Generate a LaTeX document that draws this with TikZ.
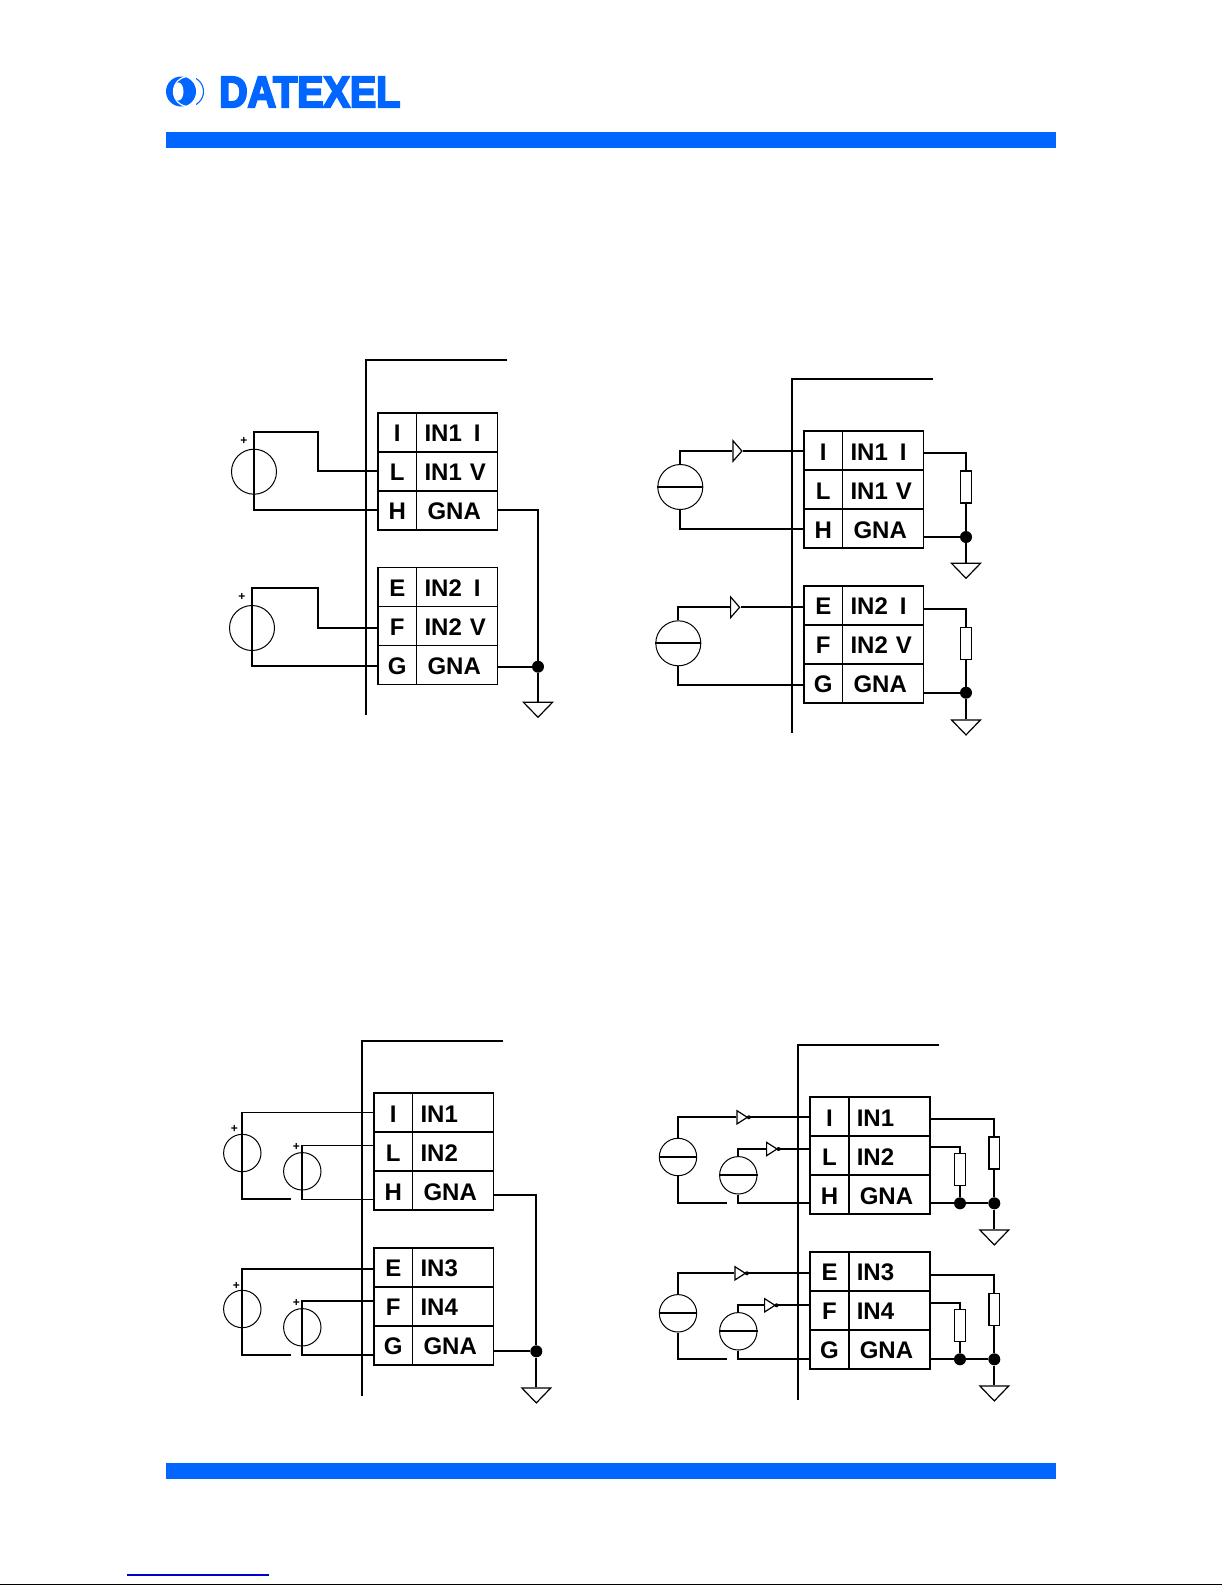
\documentclass[tikz,border=0pt]{standalone}
\usepackage{fontspec}
\usepackage{graphicx}
\usepackage{xcolor}
\setmainfont{Liberation Sans}
\newfontfamily\logofont[FakeBold=5]{Liberation Sans}
\definecolor{datexel}{HTML}{0066FF}
\definecolor{pagelink}{HTML}{0000CC}
\usetikzlibrary{positioning,shapes.geometric}

\begin{document}
\begin{tikzpicture}
[
x=1pt, y=-1pt,
bar/.style={fill=datexel, minimum width=890pt, minimum height=16pt, inner sep=0pt},
pin/.style={draw, line width=1.8pt, minimum width=38.5pt, minimum height=39pt, inner sep=0pt, outer sep=0pt, font=\fontsize{24}{28}\selectfont\bfseries, text height=19pt, text depth=0pt},
lab-l/.style={pin, align=left, text width=65pt, inner xsep=8pt},
lab-c/.style={pin, align=left, text width=59pt, inner xsep=11pt},
wire/.style={line width=1.8pt},
src-l/.style={circle, draw, line width=1pt, minimum size=45pt, inner sep=0pt},
src-s/.style={circle, draw, line width=1pt, minimum size=37.4pt, inner sep=0pt},
plus/.style={font=\fontsize{12}{12}\selectfont\bfseries, inner sep=0pt},
junction/.style={circle, fill=black, minimum size=12pt, inner sep=0pt},
tip-dot/.style={circle, fill=black, minimum size=4pt, inner sep=0pt},
ground/.style={isosceles triangle, isosceles triangle stretches, shape border rotate=-90, draw, line width=1.2pt, minimum height=15pt, minimum width=29pt, inner sep=0pt, anchor=lower side},
diode-b/.style={isosceles triangle, isosceles triangle stretches, draw, line width=1.2pt, minimum height=9pt, minimum width=20.7pt, inner sep=0pt, anchor=lower side},
diode-d/.style={isosceles triangle, isosceles triangle stretches, draw, line width=1.2pt, minimum height=10.4pt, minimum width=13.3pt, inner sep=0pt, anchor=lower side},
load/.style={draw, line width=1.4pt, minimum width=10.7pt, minimum height=32pt, inner sep=0pt}
]
\useasboundingbox (0,0) rectangle (1225,1585);

\node (bar-top) [bar] at (611,140)  {};
\node (bar-bot) [bar] at (611,1471) {};
\fill [datexel] (181,91.5) circle (15);
\begin{scope}
\clip (181,91.5) circle (15);
\fill [white] (178.5,91.5) ellipse (5 and 9);
\draw [white, line width=1.2pt] (188.5,91.5) circle (15);
\end{scope}
\begin{scope}
\clip (196,70) rectangle (210,115);
\draw [datexel, line width=1.1pt] (188.5,91.5) circle (15);
\end{scope}
\node (logo) [anchor=west, inner sep=0pt, text=datexel] at (219,92) {\resizebox{181pt}{30pt}{\logofont\bfseries DATEXEL}};
\draw [pagelink, line width=1.2pt] (127,1575) -- (269,1575);
\draw [black, line width=1.6pt] (0,1584.3) -- (1222,1584.3);

% first panel
\node (pin-a1-1) [pin, anchor=north west] at (378,412.7) {I};
\node (pin-a1-2) [pin, below = 0pt of pin-a1-1]  {L};
\node (pin-a1-3) [pin, below = 0pt of pin-a1-2]  {H};
\node (lab-a1-1) [lab-l, right = 0pt of pin-a1-1] {IN1~\,I};
\node (lab-a1-2) [lab-l, right = 0pt of pin-a1-2] {IN1~V};
\node (lab-a1-3) [lab-c, right = 0pt of pin-a1-3] {GNA};
\node (pin-a2-1) [pin, anchor=north west] at (378,567.5) {E};
\node (pin-a2-2) [pin, below = 0pt of pin-a2-1]  {F};
\node (pin-a2-3) [pin, below = 0pt of pin-a2-2]  {G};
\node (lab-a2-1) [lab-l, right = 0pt of pin-a2-1] {IN2~\,I};
\node (lab-a2-2) [lab-l, right = 0pt of pin-a2-2] {IN2~V};
\node (lab-a2-3) [lab-c, right = 0pt of pin-a2-3] {GNA};
\node (src-a1)   [src-l] at (254,471.7) {};
\node (src-a2)   [src-l] at (252,628)   {};
\node (plus-a1)  [plus]  at (244,440.7) {+};
\node (plus-a2)  [plus]  at (242,596.7) {+};
\node (dot-a)    [junction] at (538,666.7) {};
\node (gnd-a)    [ground]   at (538,701.7) {};
\coordinate (bus-a-r) at (507,360.3);
\coordinate (bus-a-c) at (366,360.3);
\coordinate (bus-a-b) at (366,715);
\coordinate (bend-a1) at (318,432);
\coordinate (bend-a2) at (318,588);
\draw [wire] (bus-a-r) -- (bus-a-c) -- (bus-a-b);
\draw [wire] (pin-a1-2.west) -| (bend-a1) -- (bend-a1 -| src-a1) |- (pin-a1-3.west);
\draw [wire] ([yshift=-2pt]pin-a2-2.west) -| (bend-a2) -- (bend-a2 -| src-a2) |- ([yshift=-1pt]pin-a2-3.west);
\draw [wire] (lab-a1-3.east) -| (dot-a);
\draw [wire] (dot-a -| lab-a2-3.east) -- (dot-a) -- (gnd-a.lower side);

% second panel
\node (pin-b1-1) [pin, anchor=north west] at (804,431.3) {I};
\node (pin-b1-2) [pin, below = 0pt of pin-b1-1]  {L};
\node (pin-b1-3) [pin, below = 0pt of pin-b1-2]  {H};
\node (lab-b1-1) [lab-l, right = 0pt of pin-b1-1] {IN1~\,I};
\node (lab-b1-2) [lab-l, right = 0pt of pin-b1-2] {IN1~V};
\node (lab-b1-3) [lab-c, right = 0pt of pin-b1-3] {GNA};
\node (pin-b2-1) [pin, anchor=north west] at (804,585.8) {E};
\node (pin-b2-2) [pin, below = 0pt of pin-b2-1]  {F};
\node (pin-b2-3) [pin, below = 0pt of pin-b2-2]  {G};
\node (lab-b2-1) [lab-l, right = 0pt of pin-b2-1] {IN2~\,I};
\node (lab-b2-2) [lab-l, right = 0pt of pin-b2-2] {IN2~V};
\node (lab-b2-3) [lab-c, right = 0pt of pin-b2-3] {GNA};
\node (src-b1)   [src-l] at (680.3,487)   {};
\node (src-b2)   [src-l] at (678.3,643.3) {};
\node (tri-b1)   [diode-b] at (732.3,451)   {};
\node (tri-b2)   [diode-b] at (730,607.3)   {};
\node (load-b1)  [load] at (966,487)   {};
\node (load-b2)  [load] at (966,643.3) {};
\node (dot-b1)   [junction] at (966,537)   {};
\node (dot-b2)   [junction] at (966,692.7) {};
\node (gnd-b1)   [ground]   at (966,562.7) {};
\node (gnd-b2)   [ground]   at (966,719.3) {};
\coordinate (bus-b-r) at (933,379.3);
\coordinate (bus-b-c) at (792.3,379.3);
\coordinate (bus-b-b) at (792.3,733.3);
\draw [wire] (bus-b-r) -- (bus-b-c) -- (bus-b-b);
\draw [wire] (src-b1.west) -- (src-b1.east);
\draw [wire] (src-b2.west) -- (src-b2.east);
\draw [wire] (src-b1.north) |- (tri-b1.lower side);
\draw [wire] (tri-b1.apex) -- (tri-b1.apex -| pin-b1-1.west);
\draw [wire] (src-b1.south) |- (pin-b1-3.west);
\draw [wire] (src-b2.north) |- (tri-b2.lower side);
\draw [wire] (tri-b2.apex) -- (tri-b2.apex -| pin-b2-1.west);
\draw [wire] (src-b2.south) |- ([yshift=-2pt]pin-b2-3.west);
\draw [wire] ([yshift=-2.5pt]lab-b1-1.east) -| (load-b1.north);
\draw [wire] (load-b1.south) -- (dot-b1) -- (gnd-b1.lower side);
\draw [wire] (dot-b1 -| lab-b1-3.east) -- (dot-b1);
\draw [wire] ([yshift=-3.7pt]lab-b2-1.east) -| (load-b2.north);
\draw [wire] (load-b2.south) -- (dot-b2) -- (gnd-b2.lower side);
\draw [wire] (dot-b2 -| lab-b2-3.east) -- (dot-b2);

% third panel
\node (pin-c1-1) [pin, anchor=north west] at (374,1093) {I};
\node (pin-c1-2) [pin, below = 0pt of pin-c1-1]  {L};
\node (pin-c1-3) [pin, below = 0pt of pin-c1-2]  {H};
\node (lab-c1-1) [lab-l, right = 0pt of pin-c1-1] {IN1};
\node (lab-c1-2) [lab-l, right = 0pt of pin-c1-2] {IN2};
\node (lab-c1-3) [lab-c, right = 0pt of pin-c1-3] {GNA};
\node (pin-c2-1) [pin, anchor=north west] at (374,1247.8) {E};
\node (pin-c2-2) [pin, below = 0pt of pin-c2-1]  {F};
\node (pin-c2-3) [pin, below = 0pt of pin-c2-2]  {G};
\node (lab-c2-1) [lab-l, right = 0pt of pin-c2-1] {IN3};
\node (lab-c2-2) [lab-l, right = 0pt of pin-c2-2] {IN4};
\node (lab-c2-3) [lab-c, right = 0pt of pin-c2-3] {GNA};
\node (src-c1)   [src-s] at (242.3,1153)   {};
\node (src-c2)   [src-s] at (302.3,1171.3) {};
\node (src-c3)   [src-s] at (242.3,1309)   {};
\node (src-c4)   [src-s] at (302.3,1327.3) {};
\node (plus-c1)  [plus]  at (234.3,1129.3) {+};
\node (plus-c2)  [plus]  at (296.3,1147.3) {+};
\node (plus-c3)  [plus]  at (236.3,1285.7) {+};
\node (plus-c4)  [plus]  at (296.3,1303.3) {+};
\node (dot-c)    [junction] at (536.3,1351.3) {};
\node (gnd-c)    [ground]   at (536.3,1387.3) {};
\coordinate (bus-c-r) at (503.3,1041.3);
\coordinate (bus-c-c) at (362.3,1041.3);
\coordinate (bus-c-b) at (362.3,1396);
\coordinate (tail-c1) at (291,1199.3);
\coordinate (tail-c3) at (291,1355.3);
\draw [wire] (bus-c-r) -- (bus-c-c) -- (bus-c-b);
\draw [wire] (pin-c1-1.west) -- (pin-c1-1.west -| src-c1) |- (tail-c1);
\draw [wire] ([yshift=6pt]pin-c1-2.west) -- ([yshift=6pt]pin-c1-2.west -| src-c2) |- ([yshift=-9pt]pin-c1-3.west);
\draw [wire] ([yshift=-2pt]pin-c2-1.west) -- ([yshift=-2pt]pin-c2-1.west -| src-c3) |- (tail-c3);
\draw [wire] ([yshift=5pt]pin-c2-2.west) -- ([yshift=5pt]pin-c2-2.west -| src-c4) |- ([yshift=-10pt]pin-c2-3.west);
\draw [wire] ([yshift=-4.5pt]lab-c1-3.east) -| (dot-c);
\draw [wire] (dot-c -| lab-c2-3.east) -- (dot-c) -- (gnd-c.lower side);

% fourth panel
\node (pin-d1-1) [pin, anchor=north west] at (810.3,1097.3) {I};
\node (pin-d1-2) [pin, below = 0pt of pin-d1-1]  {L};
\node (pin-d1-3) [pin, below = 0pt of pin-d1-2]  {H};
\node (lab-d1-1) [lab-l, right = 0pt of pin-d1-1] {IN1};
\node (lab-d1-2) [lab-l, right = 0pt of pin-d1-2] {IN2};
\node (lab-d1-3) [lab-c, right = 0pt of pin-d1-3] {GNA};
\node (pin-d2-1) [pin, anchor=north west] at (810.3,1251.6) {E};
\node (pin-d2-2) [pin, below = 0pt of pin-d2-1]  {F};
\node (pin-d2-3) [pin, below = 0pt of pin-d2-2]  {G};
\node (lab-d2-1) [lab-l, right = 0pt of pin-d2-1] {IN3};
\node (lab-d2-2) [lab-l, right = 0pt of pin-d2-2] {IN4};
\node (lab-d2-3) [lab-c, right = 0pt of pin-d2-3] {GNA};
\node (src-d1)   [src-s] at (678,1157)     {};
\node (src-d2)   [src-s] at (738.3,1175.3) {};
\node (src-d3)   [src-s] at (678,1313.3)   {};
\node (src-d4)   [src-s] at (738.3,1331.3) {};
\node (tri-d1)   [diode-d] at (736.3,1117.3) {};
\node (tri-d2)   [diode-d] at (766,1149)     {};
\node (tri-d3)   [diode-d] at (734.3,1273.3) {};
\node (tri-d4)   [diode-d] at (764,1305.3)   {};
\node (tip-d1)   [tip-dot] at (tri-d1.apex) {};
\node (tip-d2)   [tip-dot] at (tri-d2.apex) {};
\node (tip-d3)   [tip-dot] at (tri-d3.apex) {};
\node (tip-d4)   [tip-dot] at (tri-d4.apex) {};
\node (load-d1)  [load] at (994.3,1153)   {};
\node (load-d2)  [load] at (960,1169.3)   {};
\node (load-d3)  [load] at (994.3,1309.3) {};
\node (load-d4)  [load] at (960,1325.3)   {};
\node (dot-d1)   [junction] at (994.3,1203.3) {};
\node (dot-d2)   [junction] at (960,1203.3)   {};
\node (dot-d3)   [junction] at (994.3,1359.3) {};
\node (dot-d4)   [junction] at (960,1359.3)   {};
\node (gnd-d1)   [ground]   at (994.3,1229.3) {};
\node (gnd-d2)   [ground]   at (994.3,1385.3) {};
\coordinate (bus-d-r) at (939,1045.3);
\coordinate (bus-d-c) at (798,1045.3);
\coordinate (bus-d-b) at (798,1400);
\coordinate (tail-d1) at (727.3,1203.3);
\coordinate (tail-d3) at (727.3,1359.3);
\draw [wire] (bus-d-r) -- (bus-d-c) -- (bus-d-b);
\draw [wire] (src-d1.west) -- (src-d1.east);
\draw [wire] (src-d2.west) -- (src-d2.east);
\draw [wire] (src-d3.west) -- (src-d3.east);
\draw [wire] (src-d4.west) -- (src-d4.east);
\draw [wire] (src-d1.north) |- (tri-d1.lower side);
\draw [wire] (tri-d1.apex) -- (tri-d1.apex -| pin-d1-1.west);
\draw [wire] (src-d1.south) |- (tail-d1);
\draw [wire] (src-d2.north) |- (tri-d2.lower side);
\draw [wire] (tri-d2.apex) -- (tri-d2.apex -| pin-d1-2.west);
\draw [wire] (src-d2.south) |- ([yshift=-8.5pt]pin-d1-3.west);
\draw [wire] (src-d3.north) |- (tri-d3.lower side);
\draw [wire] (tri-d3.apex) -- (tri-d3.apex -| pin-d2-1.west);
\draw [wire] (src-d3.south) |- (tail-d3);
\draw [wire] (src-d4.north) |- (tri-d4.lower side);
\draw [wire] (tri-d4.apex) -- (tri-d4.apex -| pin-d2-2.west);
\draw [wire] (src-d4.south) |- ([yshift=-10pt]pin-d2-3.west);
\draw [wire] ([yshift=-2.5pt]lab-d1-1.east) -| (load-d1.north);
\draw [wire] ([yshift=8.5pt]lab-d1-2.east) -| (load-d2.north);
\draw [wire] (load-d1.south) -- (dot-d1) -- (gnd-d1.lower side);
\draw [wire] (load-d2.south) -- (dot-d2);
\draw [wire] (dot-d2 -| lab-d1-3.east) -- (dot-d2) -- (dot-d1);
\draw [wire] ([yshift=-4pt]lab-d2-1.east) -| (load-d3.north);
\draw [wire] ([yshift=7pt]lab-d2-2.east) -| (load-d4.north);
\draw [wire] (load-d3.south) -- (dot-d3) -- (gnd-d2.lower side);
\draw [wire] (load-d4.south) -- (dot-d4);
\draw [wire] (dot-d4 -| lab-d2-3.east) -- (dot-d4) -- (dot-d3);

\end{tikzpicture}
\end{document}
